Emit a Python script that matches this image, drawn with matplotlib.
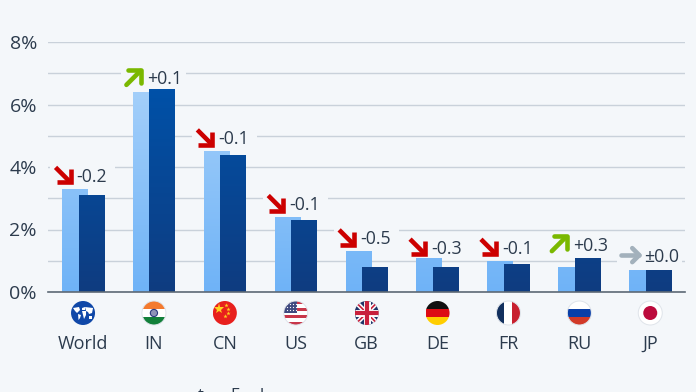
import numpy as np
import matplotlib
matplotlib.use("Agg")
import matplotlib.pyplot as plt
from matplotlib.colors import LinearSegmentedColormap
from matplotlib.patches import Circle, Rectangle, Polygon

categories = ["World", "IN", "CN", "US", "GB", "DE", "FR", "RU", "JP"]
earlier = [3.3, 6.4, 4.5, 2.4, 1.3, 1.1, 1.0, 0.8, 0.7]
later = [3.1, 6.5, 4.4, 2.3, 0.8, 0.8, 0.9, 1.1, 0.7]
changes = ["-0.2", "+0.1", "-0.1", "-0.1", "-0.5", "-0.3", "-0.1", "+0.3", "±0.0"]
y_major = [0, 2, 4, 6, 8]
y_minor = [1, 3, 5, 7]

BG = "#f4f7fa"
TXT = "#2c3b4d"
GRID = "#c9d1da"
RED = "#cc0000"
GREEN = "#7ab800"
GRAY = "#a3b1bc"

plt.rcParams["font.family"] = ["Open Sans", "DejaVu Sans"]

W, H = 696, 392
fig = plt.figure(figsize=(W / 100, H / 100), dpi=100, facecolor=BG)
ax = fig.add_axes([48 / W, 1 - 292 / H, (685 - 48) / W, 250 / H], facecolor="none")
# overlay in pixel coordinates for flags and arrows
ov = fig.add_axes([0, 0, 1, 1], facecolor="none", zorder=5)
ov.set_xlim(0, W)
ov.set_ylim(H, 0)
ov.axis("off")

xlim = (-0.494, 8.49)
ymax_grad = 6.5
light_cmap = LinearSegmentedColormap.from_list("light", ["#6fb3f7", "#a3cffa"])
dark_cmap = LinearSegmentedColormap.from_list("dark", ["#0f3c80", "#0051a8"])


def gradient_bars(xs, values, cmap, z):
    bars = ax.bar(xs, values, width=0.36, color=cmap(0.5), zorder=z)
    for b, v in zip(bars, values):
        x0 = b.get_x()
        grad = np.linspace(v, 0, 60).reshape(-1, 1)
        im = ax.imshow(grad, extent=(x0, x0 + b.get_width(), 0, v), aspect="auto",
                       cmap=cmap, vmin=0, vmax=ymax_grad, zorder=z + 0.1)
        im.set_clip_path(b)


pos = np.arange(len(categories))
gradient_bars(pos - 0.117, earlier, light_cmap, 3)
gradient_bars(pos + 0.117, later, dark_cmap, 4)

ax.set_xlim(*xlim)
ax.set_ylim(0, 8)
ax.set_yticks(y_major)
ax.set_yticklabels([f"{v}%" for v in y_major], fontsize=14, color=TXT)
ax.set_yticks(y_minor, minor=True)
ax.set_xticks(pos)
ax.set_xticklabels(categories, fontsize=13, color=TXT)
ax.tick_params(axis="both", which="both", length=0)
ax.tick_params(axis="x", pad=31)
ax.tick_params(axis="y", pad=8)
ax.grid(True, axis="y", which="both", color=GRID, lw=1.0, zorder=1)
ax.set_axisbelow(True)
for s in ["top", "right", "left"]:
    ax.spines[s].set_visible(False)
ax.spines["bottom"].set_color("#5d6975")
ax.spines["bottom"].set_linewidth(1.2)
ax.spines["bottom"].set_zorder(6)


def to_px(x, y):
    dx, dy = ax.transData.transform((x, y))
    return dx * 100 / fig.dpi, H - dy * 100 / fig.dpi


def arrow(cx, cy, kind):
    s = 7.5
    if kind == "-":
        pts = [[(cx - s, cy - s), (cx + s - 1, cy + s - 1)],
               [(cx - s + 1, cy + s), (cx + s, cy + s), (cx + s, cy - s + 2)]]
        col, cap = RED, "butt"
    elif kind == "+":
        pts = [[(cx - s, cy + s), (cx + s - 1, cy - s + 1)],
               [(cx - s + 2, cy - s), (cx + s, cy - s), (cx + s, cy + s - 2)]]
        col, cap = GREEN, "round"
    else:
        pts = [[(cx - 9, cy), (cx + 9, cy)],
               [(cx + 2, cy - 7), (cx + 9, cy), (cx + 2, cy + 7)]]
        col, cap = GRAY, "round"
    for p in pts:
        xs, ys = zip(*p)
        ov.plot(xs, ys, color=col, lw=3.3, solid_capstyle=cap,
                solid_joinstyle="miter" if cap == "butt" else "round", zorder=8)


# vertical offset of the label above the taller bar, in pixels
label_dy = [14, 11.5, 14, 14, 14, 11, 14, 14, 15]
for i, ch in enumerate(changes):
    gx, gy = to_px(i, max(earlier[i], later[i]))
    ly = gy - label_dy[i]
    # masks the gridlines behind the label
    ax.add_patch(Rectangle((gx - 33, ly - 11), 65, 22, transform=ov.transData,
                           facecolor=BG, edgecolor="none", zorder=2, clip_on=False))
    arrow(gx - 20, ly, ch[0])
    ov.text(gx - 6.5, ly, ch, fontsize=12.8, color=TXT, ha="left", va="center_baseline", zorder=8)


def flag_world(cx, cy, clip):
    ov.add_patch(Circle((cx, cy), 12, facecolor="#1048a8", edgecolor="none", zorder=7))
    lands = [[(-10, -5), (-4, -6), (-3, -3), (-6, 0), (-8, -2)],
             [(-5, 1), (-2, 2), (-3, 5), (-4.5, 7)],
             [(-1, -5), (2, -6), (2, -3), (-1, -3)],
             [(-1, -2), (3, -2), (3, 2), (1, 6), (0, 2)],
             [(2, -6), (10, -5), (9, 0), (6, 1), (5, -1), (3, -2)],
             [(6, 3), (9, 3), (9, 5.5), (6, 5.5)]]
    for land in lands:
        ov.add_patch(Polygon([(cx + a, cy + b) for a, b in land], facecolor="white",
                             edgecolor="none", zorder=8))


def stripes(cx, cy, cols, clip, vertical=False):
    n = len(cols)
    for k, c in enumerate(cols):
        if vertical:
            r = Rectangle((cx - 12 + k * 24 / n, cy - 12), 24 / n, 24, facecolor=c, edgecolor="none", zorder=7)
        else:
            r = Rectangle((cx - 12, cy - 12 + k * 24 / n), 24, 24 / n, facecolor=c, edgecolor="none", zorder=7)
        ov.add_patch(r)
        r.set_clip_path(clip)


def flag_cn(cx, cy, clip):
    stripes(cx, cy, ["#e8201d"], clip)
    ov.plot([cx - 5.5], [cy - 4.5], marker="*", ms=8, color="#ffd21f", mew=0, zorder=8)
    for dx, dy in [(1, -8), (3.5, -4.5), (3.5, -0.5), (0.5, 2.5)]:
        ov.plot([cx + dx], [cy + dy], marker="*", ms=3.2, color="#ffd21f", mew=0, zorder=8)


def flag_in(cx, cy, clip):
    stripes(cx, cy, ["#f47a2e", "#ffffff", "#12803a"], clip)
    ov.add_patch(Circle((cx, cy), 3.6, facecolor="#8f93b8", edgecolor="#2c3a80", lw=0.8, zorder=8))


def flag_us(cx, cy, clip):
    stripes(cx, cy, ["#c8374a", "#ffffff"] * 3 + ["#c8374a"], clip)
    r = Rectangle((cx - 12, cy - 12), 13, 12, facecolor="#3f4a80", edgecolor="none", zorder=8)
    ov.add_patch(r)
    r.set_clip_path(clip)
    for yy in [-9, -6, -3]:
        for xx in [-9, -6, -3, 0]:
            ov.plot([cx + xx], [cy + yy], marker=".", ms=1.8, color="white", mew=0, zorder=9)


def flag_gb(cx, cy, clip):
    stripes(cx, cy, ["#1f3468"], clip)
    segs = [([-12, 12], [-12, 12], "white", 3.4), ([-12, 12], [12, -12], "white", 3.4),
            ([-12, 12], [-12, 12], "#c8203c", 1.2), ([-12, 12], [12, -12], "#c8203c", 1.2),
            ([-12, 12], [0, 0], "white", 5.0), ([0, 0], [-12, 12], "white", 5.0),
            ([-12, 12], [0, 0], "#c8203c", 3.0), ([0, 0], [-12, 12], "#c8203c", 3.0)]
    for xs, ys, c, lw in segs:
        l, = ov.plot(np.array(xs) + cx, np.array(ys) + cy, color=c, lw=lw, zorder=8,
                     solid_capstyle="butt")
        l.set_clip_path(clip)


def flag_jp(cx, cy, clip):
    stripes(cx, cy, ["#ffffff"], clip)
    ov.add_patch(Circle((cx, cy), 7, facecolor="#bc0a3c", edgecolor="none", zorder=8))


def make_flag(i, code):
    cx, _ = to_px(i, 0)
    cy = 313
    clip = Circle((cx, cy), 12, transform=ov.transData)
    if code == "World":
        flag_world(cx, cy, clip)
    elif code == "IN":
        flag_in(cx, cy, clip)
    elif code == "CN":
        flag_cn(cx, cy, clip)
    elif code == "US":
        flag_us(cx, cy, clip)
    elif code == "GB":
        flag_gb(cx, cy, clip)
    elif code == "DE":
        stripes(cx, cy, ["#111111", "#dd0c14", "#ffce00"], clip)
    elif code == "FR":
        stripes(cx, cy, ["#12305e", "#ffffff", "#c8202f"], clip, vertical=True)
    elif code == "RU":
        stripes(cx, cy, ["#ffffff", "#0a3fa8", "#d23a28"], clip)
    elif code == "JP":
        flag_jp(cx, cy, clip)
    if code in ("IN", "US", "FR", "RU", "JP"):
        ov.add_patch(Circle((cx, cy), 12, facecolor="none", edgecolor="#dfe4ea", lw=0.7, zorder=10))


for i, c in enumerate(categories):
    make_flag(i, c)

# source line is cut off by the bottom edge of the picture
ov.text(198, 400, "t", fontsize=12, color=TXT, ha="left", va="baseline", clip_on=True)
ov.text(230, 400, "F", fontsize=12, color=TXT, ha="left", va="baseline", clip_on=True)
ov.text(260, 400, "l", fontsize=12, color=TXT, ha="left", va="baseline", clip_on=True)

fig.savefig("out.png", dpi=100, facecolor=BG)
